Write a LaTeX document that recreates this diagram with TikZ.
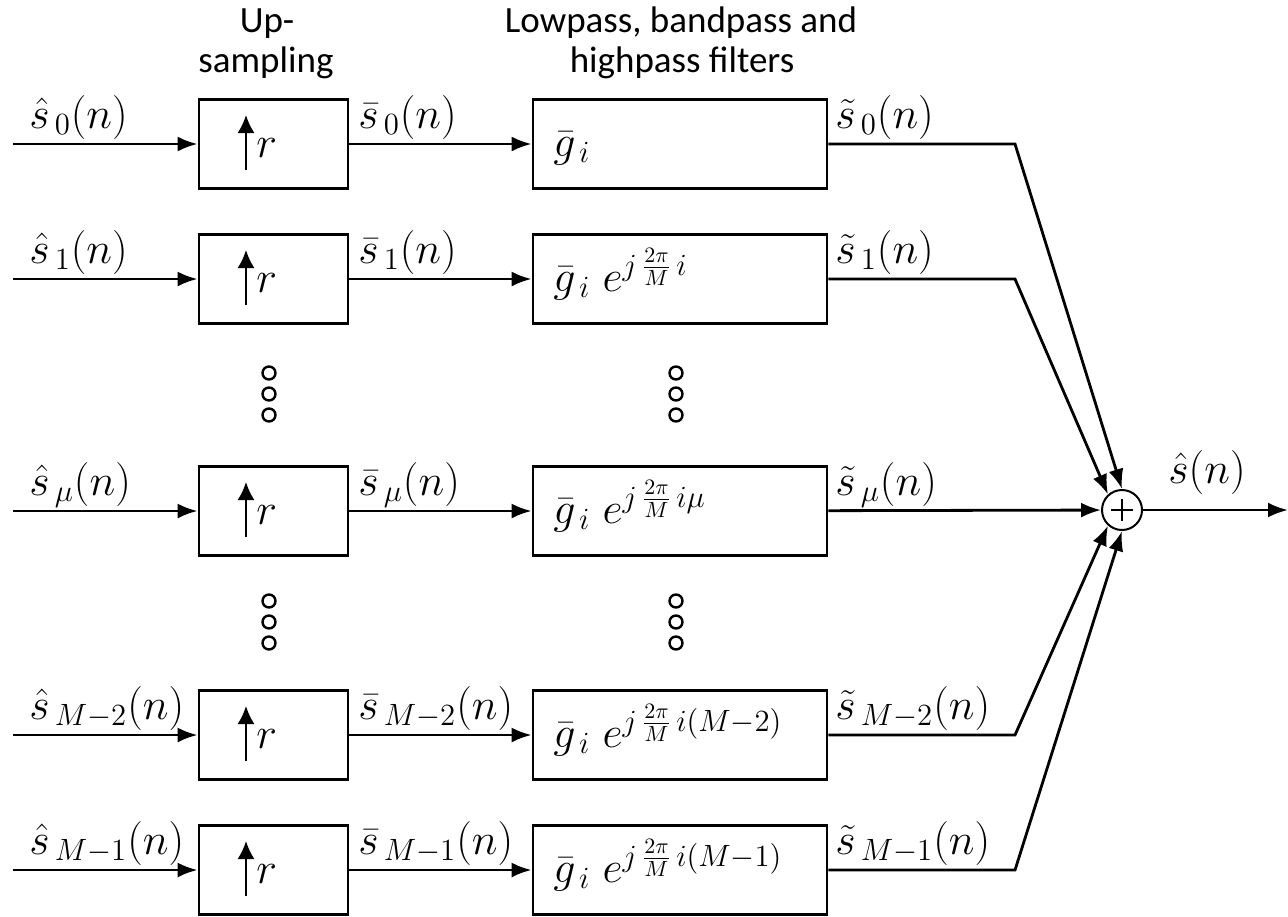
\RequirePackage{fix-cm}
\documentclass[tikz,border=0pt]{standalone}
\usepackage{fontspec}
\newfontfamily\headfont{Carlito}
\usetikzlibrary{arrows.meta}

\newcommand{\mfont}{\fontsize{22}{26}\selectfont}

% one branch: name, line y, subscript, filter expression
\newcommand{\branchrow}[4]{%
  \coordinate (in#1) at (13,#2);
  \node[upbox] (up#1) at (273.5,#2) {};
  \node[filtbox] (f#1) at (680,#2) {};
  \coordinate (k#1) at (1015,#2);
  \draw[uparrow] ([shift={(-27.5,26)}]up#1.center) -- ++(0,-55);
  \node[lbl] (r#1) at (256,#2+13) {$r$};
  \node[lbl] (g#1) at (553,#2+12) {$#4$};
  \node[lbl] (a#1) at (29,#2-16) {$\hat{s}_{\,#3}(n)$};
  \node[lbl] (b#1) at (358,#2-16) {$\bar{s}_{\,#3}(n)$};
  \node[lbl] (c#1) at (835,#2-16) {$\tilde{s}_{\,#3}(n)$};
  \draw[sig] (in#1) -- (up#1);
  \draw[sig] (up#1) -- (f#1);
}

\begin{document}
\begin{tikzpicture}[x=0.5pt,y=-0.5pt,
  wire/.style={line width=1.4pt},
  sig/.style={wire,-{Latex[length=10pt,width=7.5pt]}},
  uparrow/.style={line width=1pt,-{Latex[length=9pt,width=8.5pt]}},
  upbox/.style={draw,line width=1.4pt,minimum width=74.5pt,minimum height=44.5pt,inner sep=0pt},
  filtbox/.style={draw,line width=1.4pt,minimum width=147pt,minimum height=44.5pt,inner sep=0pt},
  lbl/.style={anchor=base west,inner sep=0pt,font=\mfont},
  head/.style={anchor=base,inner sep=0pt,font=\headfont\fontsize{18.5}{22}\selectfont},
  dot/.style={circle,draw,line width=1.2pt,minimum size=6.5pt,inner sep=0pt},
  adder/.style={circle,draw,line width=1pt,minimum size=20pt,inner sep=0pt}
]
\useasboundingbox (0,0) rectangle (1288,916);

% column headings
\node[head] (h1) at (267,32) {Up-};
\node[head] (h2) at (266,72) {sampling};
\node[head] (h3) at (681,32) {Lowpass, bandpass and};
\node[head] (h4) at (682,72) {highpass filters};

% branches
\branchrow{1}{144}{0}{\bar{g}_{\,i}}
\branchrow{2}{279}{1}{\bar{g}_{\,i}\; e^{j\,\frac{2\pi}{M}\,i}}
\branchrow{3}{511}{\mu}{\bar{g}_{\,i}\; e^{j\,\frac{2\pi}{M}\,i\mu}}
\branchrow{4}{735}{M-2}{\bar{g}_{\,i}\; e^{j\,\frac{2\pi}{M}\,i(M-2)}}
\branchrow{5}{870}{M-1}{\bar{g}_{\,i}\; e^{j\,\frac{2\pi}{M}\,i(M-1)}}

% continuation dots
\foreach \yy [count=\n] in {373,394,415,601,622,643}{
  \node[dot] (du\n) at (269,\yy) {};
  \node[dot] (df\n) at (676,\yy) {};
}

% adder
\node[adder] (sum) at (1122,510) {};
\draw[line width=0.9pt] ([xshift=-5.5pt]sum.center) -- ([xshift=5.5pt]sum.center)
  ([yshift=-5.5pt]sum.center) -- ([yshift=5.5pt]sum.center);
\coordinate (out) at (1288,510);

\draw[sig] (f1) -- (k1) -- (sum.90);
\draw[sig] (f2) -- (k2) -- (sum.132);
\draw[sig] (f3) -- (sum);
\draw[sig] (f4) -- (k4) -- (sum.228);
\draw[sig] (f5) -- (k5) -- (sum.270);
\draw[sig] (sum) -- (out);

\node[lbl] (sout) at (1168,483) {$\hat{s}(n)$};
\end{tikzpicture}
\end{document}
